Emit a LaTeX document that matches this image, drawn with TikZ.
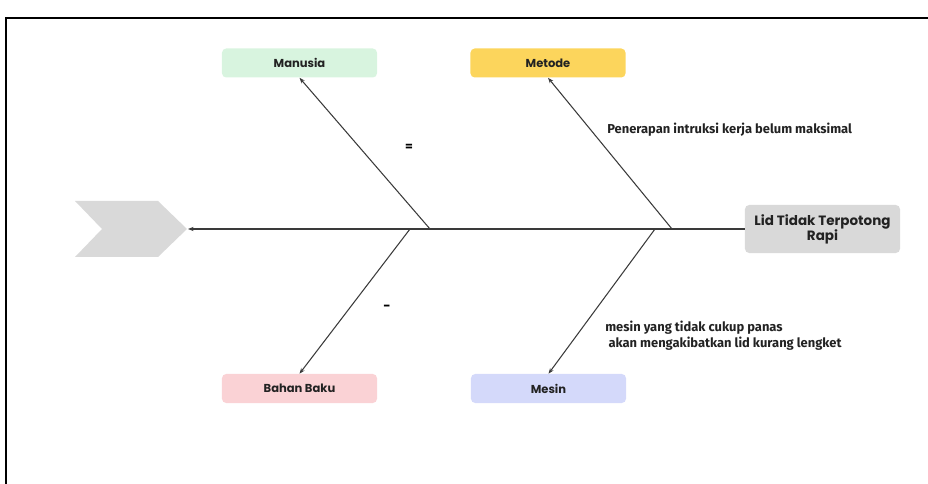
\documentclass[tikz,border=0pt]{standalone}
\usepackage{fontspec}
\setmainfont{Poppins}
\newfontfamily\notefont{Fira Sans}
\usetikzlibrary{arrows.meta}
\definecolor{hijau}{HTML}{D8F4DF}
\definecolor{kuning}{HTML}{FCD55C}
\definecolor{merah}{HTML}{FAD2D5}
\definecolor{ungu}{HTML}{D4D9FA}
\definecolor{abu}{HTML}{D9D9D9}
\definecolor{garis}{HTML}{3A3A3A}
\definecolor{teks}{HTML}{222222}
\begin{document}
\begin{tikzpicture}[x=0.025cm, y=-0.025cm,
  kategori/.style={rounded corners=3pt, minimum width=3.875cm, minimum height=0.725cm, text=teks, font=\bfseries\fontsize{8.2}{10}\selectfont},
  akibat/.style={rounded corners=3pt, fill=abu, minimum width=3.875cm, minimum height=1.2cm, align=center, text=teks, font=\bfseries\fontsize{9.6}{10.7}\selectfont},
  tulang/.style={draw=garis, line width=0.75pt, -{Stealth[length=4pt,width=3pt]}},
  catatan/.style={align=left, text=teks, inner sep=0pt, font=\notefont\bfseries\fontsize{9.2}{11.4}\selectfont}]
\useasboundingbox (0,0) rectangle (928,484);
\draw[line width=1.4pt] (6,484) -- (6,18) -- (928,18);
\fill[abu] (75,201) -- (158,201) -- (187,229) -- (158,257) -- (75,257) -- (102,229) -- cycle;
\coordinate (kepala) at (188,229);
\node[kategori, fill=hijau] (manusia) at (299.5,63) {Manusia};
\node[kategori, fill=kuning] (metode) at (548,63) {Metode};
\node[kategori, fill=merah] (bahan) at (299.5,388.5) {Bahan Baku};
\node[kategori, fill=ungu] (mesin) at (548.5,388.5) {Mesin};
\node[akibat] (lid) at (822.5,229) {Lid Tidak Terpotong\\Rapi};
\draw[tulang, line width=1pt] (lid.west) -- (kepala);
\coordinate (t1) at (430,229);
\coordinate (t2) at (672,229);
\coordinate (t3) at (410,229);
\coordinate (t4) at (655,229);
\draw[tulang] (t1) -- (manusia.south);
\draw[tulang] (t2) -- (metode.south);
\draw[tulang] (t3) -- (bahan.north);
\draw[tulang] (t4) -- (mesin.north);
\node[catatan, anchor=west] (n1) at (607,130) {Penerapan intruksi kerja belum maksimal};
\node[catatan, anchor=north west] (n2) at (605,321) {mesin yang tidak cukup panas\\\hspace*{0.25em}akan mengakibatkan lid kurang lengket};
\node[font=\bfseries\fontsize{8}{8}\selectfont, inner sep=0pt] (s1) at (409,147) {=};
\node[font=\bfseries\fontsize{9}{9}\selectfont, inner sep=0pt] (s2) at (387,308) {-};
\end{tikzpicture}
\end{document}
